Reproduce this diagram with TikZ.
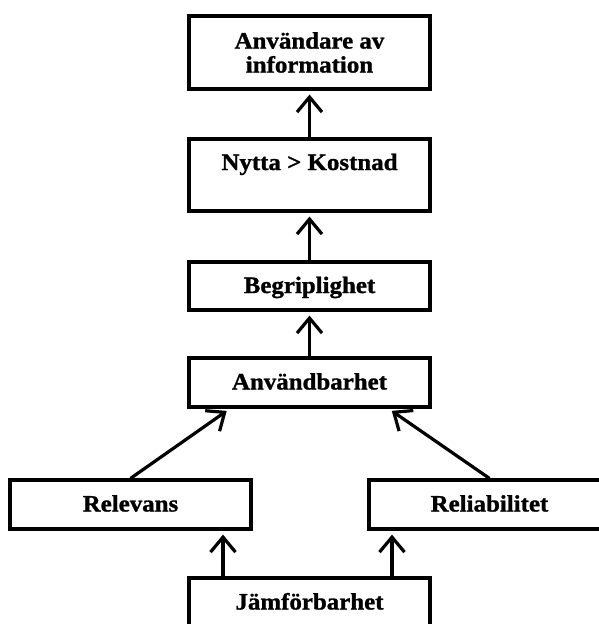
\documentclass[tikz,border=0pt]{standalone}
\usepackage{fontspec}
\newfontfamily\lblfont{Liberation Serif}[FakeStretch=1.06,FakeBold=1.2]
\usetikzlibrary{arrows.meta,calc}

\begin{document}
\begin{tikzpicture}[x=1pt,y=1pt,
  box/.style={draw=black, line width=3.2pt, rectangle,
    minimum width=241pt, minimum height=49pt, inner sep=0pt,
    font=\lblfont\bfseries\fontsize{23.5}{24}\selectfont,
    text height=16pt, text depth=2pt},
  twoline/.style={align=center, text height=, text depth=, minimum height=73pt},
  arr/.style={draw=black, line width=3.2pt,
    -{Straight Barb[length=15pt,width=25pt]}, shorten >=4pt}
]
\useasboundingbox (0,0) rectangle (599,-624);
\fill[white] (0,0) rectangle (599,-624);

% boxes, top to bottom
\node[box, twoline] (user) at (309.5,-52.5) {Användare av\\information};
\node[box, minimum height=72pt, text depth=26pt] (nytta) at (309.5,-175) {Nytta > Kostnad};
\node[box, minimum height=48pt] (begr) at (309.5,-286) {Begriplighet};
\node[box] (anvb) at (309.5,-382.5) {Användbarhet};
\node[box] (rel) at (130.5,-504.5) {Relevans};
\node[box] (reli) at (489.5,-504.5) {Reliabilitet};
\node[box] (jamf) at (309.5,-602.5) {Jämförbarhet};

% points where the slanted and side arrows meet their boxes
\coordinate (anvbL) at ($(anvb.south)+(-79.5,0)$);
\coordinate (anvbR) at ($(anvb.south)+(79,0)$);
\coordinate (jamfL) at ($(jamf.north)+(-86.5,0)$);
\coordinate (jamfR) at ($(jamf.north)+(82.5,0)$);

% connectors
\draw[arr] (nytta.north) -- (user.south);
\draw[arr] (begr.north) -- (nytta.south);
\draw[arr] (anvb.north) -- (begr.south);
\draw[arr] (rel.north) -- (anvbL);
\draw[arr] (reli.north) -- (anvbR);
\draw[arr] (jamfL) -- (jamfL |- rel.south);
\draw[arr] (jamfR) -- (jamfR |- reli.south);
\end{tikzpicture}
\end{document}
